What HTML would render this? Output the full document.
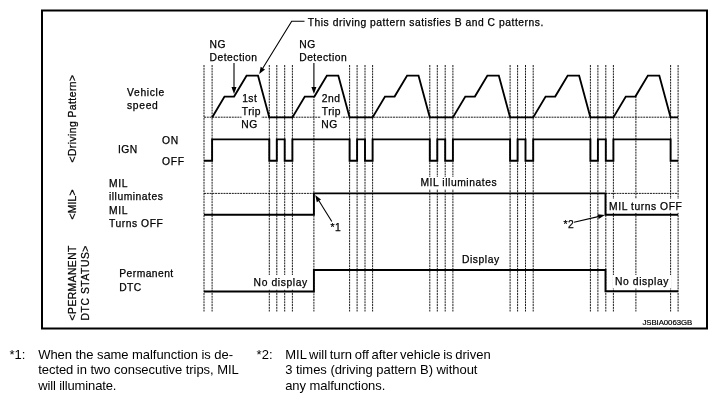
<!DOCTYPE html>
<html lang="en">
<head>
<meta charset="utf-8">
<title>Driving pattern / MIL / Permanent DTC status chart</title>
<style>
html,body{margin:0;padding:0;background:#fff;}
body{width:717px;height:403px;overflow:hidden;position:relative;font-family:"Liberation Sans",sans-serif;color:#000;}
svg{position:absolute;left:0;top:0;display:block;}
svg text{font-family:"Liberation Sans",sans-serif;fill:#000;}
.lb{font-size:10.3px;stroke:#000;stroke-width:0.25px;}
.note{position:absolute;font-size:13px;line-height:15.8px;white-space:nowrap;}
</style>
</head>
<body>
<svg width="717" height="403" viewBox="0 0 717 403">

<rect x="42" y="10.5" width="665" height="318" fill="#fff" stroke="#000" stroke-width="2"/>
<g stroke="#000" stroke-width="0.9" stroke-dasharray="2 0.78" fill="none">
<line x1="204.0" y1="65" x2="204.0" y2="311.5"/>
<line x1="212.1" y1="65" x2="212.1" y2="311.5"/>
<line x1="269.3" y1="65" x2="269.3" y2="311.5"/>
<line x1="276.8" y1="65" x2="276.8" y2="311.5"/>
<line x1="284.7" y1="65" x2="284.7" y2="311.5"/>
<line x1="292.4" y1="65" x2="292.4" y2="311.5"/>
<line x1="349.6" y1="65" x2="349.6" y2="311.5"/>
<line x1="357.1" y1="65" x2="357.1" y2="311.5"/>
<line x1="365.0" y1="65" x2="365.0" y2="311.5"/>
<line x1="372.6" y1="65" x2="372.6" y2="311.5"/>
<line x1="429.8" y1="65" x2="429.8" y2="311.5"/>
<line x1="437.3" y1="65" x2="437.3" y2="311.5"/>
<line x1="445.2" y1="65" x2="445.2" y2="311.5"/>
<line x1="452.9" y1="65" x2="452.9" y2="311.5"/>
<line x1="510.1" y1="65" x2="510.1" y2="311.5"/>
<line x1="517.6" y1="65" x2="517.6" y2="311.5"/>
<line x1="525.5" y1="65" x2="525.5" y2="311.5"/>
<line x1="533.2" y1="65" x2="533.2" y2="311.5"/>
<line x1="590.4" y1="65" x2="590.4" y2="311.5"/>
<line x1="597.9" y1="65" x2="597.9" y2="311.5"/>
<line x1="605.8" y1="65" x2="605.8" y2="311.5"/>
<line x1="613.4" y1="65" x2="613.4" y2="311.5"/>
<line x1="670.6" y1="65" x2="670.6" y2="311.5"/>
<line x1="678.1" y1="65" x2="678.1" y2="311.5"/>
<line x1="313.9" y1="96" x2="313.9" y2="311.5"/>
<line x1="635.9" y1="96" x2="635.9" y2="311.5"/>
<line x1="204" y1="117.2" x2="678.1" y2="117.2"/>
<line x1="204" y1="193.4" x2="313.9" y2="193.4"/>
<line x1="605.5" y1="193.4" x2="678.1" y2="193.4"/>
</g>
<rect x="252" y="275" width="57" height="14.5" fill="#fff"/>
<rect x="241.5" y="106" width="20" height="13" fill="#fff"/>
<rect x="321" y="106" width="20.5" height="13" fill="#fff"/>
<rect x="419.5" y="177" width="78.5" height="12" fill="#fff"/>
<rect x="608" y="199" width="76" height="13.8" fill="#fff"/>
<rect x="612.6" y="275" width="58.8" height="13.5" fill="#fff"/>
<g stroke="#000" stroke-width="1.9" fill="none" stroke-linejoin="miter" stroke-linecap="butt">
<polyline points="212.1,117.4 224.5,96.6 234.1,96.6 246.6,75.6 258.0,75.6 269.3,117.4 292.4,117.4 304.8,96.6 314.4,96.6 326.9,75.6 338.3,75.6 349.6,117.4 372.6,117.4 385.0,96.6 394.6,96.6 407.1,75.6 418.5,75.6 429.8,117.4 452.9,117.4 465.3,96.6 474.9,96.6 487.4,75.6 498.8,75.6 510.1,117.4 533.2,117.4 545.6,96.6 555.2,96.6 567.7,75.6 579.1,75.6 590.4,117.4 613.4,117.4 625.8,96.6 635.4,96.6 647.9,75.6 659.3,75.6 670.6,117.4 678.1,117.4"/>
<polyline points="204.0,160.8 212.1,160.8 212.1,139.4 269.3,139.4 269.3,160.8 276.8,160.8 276.8,139.4 284.7,139.4 284.7,160.8 292.4,160.8 292.4,139.4 349.6,139.4 349.6,160.8 357.1,160.8 357.1,139.4 365.0,139.4 365.0,160.8 372.6,160.8 372.6,139.4 429.8,139.4 429.8,160.8 437.3,160.8 437.3,139.4 445.2,139.4 445.2,160.8 452.9,160.8 452.9,139.4 510.1,139.4 510.1,160.8 517.6,160.8 517.6,139.4 525.5,139.4 525.5,160.8 533.2,160.8 533.2,139.4 590.4,139.4 590.4,160.8 597.9,160.8 597.9,139.4 605.8,139.4 605.8,160.8 613.4,160.8 613.4,139.4 670.6,139.4 670.6,160.8 678.1,160.8"/>
<polyline points="204,214.8 313.9,214.8 313.9,193.4 605.5,193.4 605.5,214.8 678.1,214.8"/>
<polyline points="204,291.5 313.9,291.5 313.9,270 605.5,270 605.5,291.2 678.1,291.2"/>
</g>
<g stroke="#000" stroke-width="1.1" fill="none">
<line x1="234" y1="63" x2="234" y2="88.0"/>
<line x1="313.9" y1="63" x2="313.9" y2="88.0"/>
<polyline points="304.5,21.3 291.7,21.3 262.9,68.0"/>
<line x1="331.8" y1="221.5" x2="318.9" y2="200.8"/>
<line x1="574" y1="222.3" x2="598.1" y2="216.6"/>
</g>
<g fill="#000" stroke="none">
<polygon points="234.0,94.0 231.5,87.0 236.5,87.0"/>
<polygon points="313.9,94.0 311.4,87.0 316.4,87.0"/>
<polygon points="259.2,74.0 260.7,66.7 265.0,69.4"/>
<polygon points="315.2,194.9 321.0,199.5 316.8,202.2"/>
<polygon points="604.9,215.0 598.7,219.0 597.5,214.2"/>
</g>
<text class="lb" x="307.7" y="25.6" textLength="235.6" lengthAdjust="spacing">This driving pattern satisfies B and C patterns.</text>
<text class="lb" x="209.6" y="47.7" textLength="16.0" lengthAdjust="spacing">NG</text>
<text class="lb" x="209.6" y="61.0" textLength="47.4" lengthAdjust="spacing">Detection</text>
<text class="lb" x="299.2" y="47.7" textLength="16.0" lengthAdjust="spacing">NG</text>
<text class="lb" x="299.2" y="61.0" textLength="47.5" lengthAdjust="spacing">Detection</text>
<text class="lb" x="127.0" y="95.9" textLength="37.3" lengthAdjust="spacing">Vehicle</text>
<text class="lb" x="127.0" y="108.5" textLength="30.8" lengthAdjust="spacing">speed</text>
<text class="lb" x="161.9" y="143.6" textLength="16.2" lengthAdjust="spacing">ON</text>
<text class="lb" x="118.1" y="153.4" textLength="19.0" lengthAdjust="spacing">IGN</text>
<text class="lb" x="161.9" y="165.1" textLength="22.2" lengthAdjust="spacing">OFF</text>
<text class="lb" x="109.0" y="187.0" textLength="18.5" lengthAdjust="spacing">MIL</text>
<text class="lb" x="109.0" y="199.9" textLength="53.8" lengthAdjust="spacing">illuminates</text>
<text class="lb" x="109.0" y="213.7" textLength="18.5" lengthAdjust="spacing">MIL</text>
<text class="lb" x="109.0" y="226.7" textLength="53.8" lengthAdjust="spacing">Turns OFF</text>
<text class="lb" x="119.3" y="277.4" textLength="53.9" lengthAdjust="spacing">Permanent</text>
<text class="lb" x="119.3" y="290.7" textLength="21.8" lengthAdjust="spacing">DTC</text>
<text class="lb" x="242.2" y="101.6" letter-spacing="0.45">1st</text>
<text class="lb" x="241.8" y="114.7" letter-spacing="0.45">Trip</text>
<text class="lb" x="241.3" y="127.7" letter-spacing="0.45">NG</text>
<text class="lb" x="321.8" y="101.6" letter-spacing="0.45">2nd</text>
<text class="lb" x="321.8" y="114.7" letter-spacing="0.45">Trip</text>
<text class="lb" x="321.3" y="127.7" letter-spacing="0.45">NG</text>
<text class="lb" x="330.6" y="231.4" letter-spacing="0.45">*1</text>
<text class="lb" x="563.6" y="228.0" letter-spacing="0.45">*2</text>
<text class="lb" x="420.4" y="186.4" textLength="76.3" lengthAdjust="spacing">MIL illuminates</text>
<text class="lb" x="609.1" y="210.4" textLength="72.7" lengthAdjust="spacing">MIL turns OFF</text>
<text class="lb" x="461.9" y="262.6" textLength="37.3" lengthAdjust="spacing">Display</text>
<text class="lb" x="253.6" y="285.6" textLength="53.6" lengthAdjust="spacing">No display</text>
<text class="lb" x="615.1" y="284.7" textLength="53.3" lengthAdjust="spacing">No display</text>
<text x="642.4" y="324.6" font-size="7.8" stroke="#000" stroke-width="0.2" textLength="49.8" lengthAdjust="spacing">JSBIA0063GB</text>
<text class="lb" transform="translate(75.9 118.8) rotate(-90)" text-anchor="middle" textLength="87.6" lengthAdjust="spacing">&lt;Driving Pattern&gt;</text>
<text class="lb" transform="translate(75.9 204.5) rotate(-90)" text-anchor="middle" textLength="30.1" lengthAdjust="spacing">&lt;MIL&gt;</text>
<text class="lb" transform="translate(76.4 283.0) rotate(-90)" text-anchor="middle" textLength="74.8" lengthAdjust="spacing">&lt;PERMANENT</text>
<text class="lb" transform="translate(89.0 283.0) rotate(-90)" text-anchor="middle" textLength="74.8" lengthAdjust="spacing">DTC STATUS&gt;</text>
</svg>
<div class="note" style="left:9.5px;top:346.5px;">*1:</div>
<div class="note" style="left:38.2px;top:346.5px;"><span style="letter-spacing:-0.055px">When the same malfunction is de-</span><br><span style="letter-spacing:-0.05px">tected in two consecutive trips, MIL</span><br><span style="letter-spacing:-0.13px">will illuminate.</span></div>
<div class="note" style="left:256.6px;top:346.5px;">*2:</div>
<div class="note" style="left:285.2px;top:346.5px;"><span style="word-spacing:-1px">MIL will turn off after vehicle is driven</span><br><span style="letter-spacing:-0.04px">3 times (driving pattern B) without</span><br><span style="letter-spacing:-0.065px">any malfunctions.</span></div>
</body>
</html>
